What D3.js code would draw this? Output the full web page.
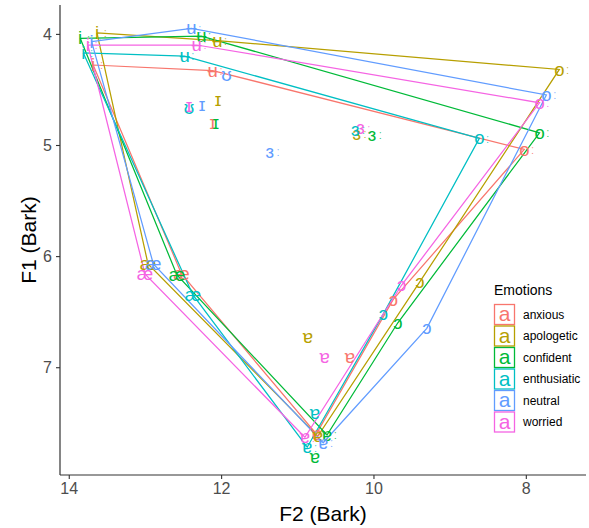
<!DOCTYPE html>
<html><head><meta charset="utf-8">
<script src="https://cdn.jsdelivr.net/npm/d3@7"></script>
<style>body{margin:0;background:#fff}svg{display:block}text{font-family:"Liberation Sans","DejaVu Sans",Arial,sans-serif}</style>
</head><body><svg id="c" width="589" height="528"></svg>
<script>
const emotions = ["anxious","apologetic","confident","enthusiatic","neutral","worried"];
const colors = ["#F8766D","#B79F00","#00BA38","#00BFC4","#619CFF","#F564E3"];
// polygon vowels in drawing order
const polyVowels = ["iː","æ","ɐː","ɔ","oː","ʉː"];
// F2 / F1 (Bark) per emotion, in polyVowels order
const f2_anxious     = [13.68,12.52,10.75,9.74,8.02,12.11];
const f1_anxious     = [4.28,6.16,7.60,6.39,5.04,4.33];
const f2_apologetic  = [13.63,12.96,10.73,9.39,7.56,12.05];
const f1_apologetic  = [3.99,6.07,7.62,6.23,4.32,4.06];
const f2_confident   = [13.85,12.58,10.61,9.68,7.82,12.26];
const f1_confident   = [4.04,6.17,7.61,6.60,4.89,4.02];
const f2_enthusiatic = [13.81,12.37,10.87,9.87,8.61,12.48];
const f1_enthusiatic = [4.17,6.35,7.72,6.52,4.94,4.20];
const f2_neutral     = [13.70,12.89,10.66,9.30,7.73,12.39];
const f1_neutral     = [4.07,6.07,7.68,6.65,4.55,3.95];
const f2_worried     = [13.75,13.00,10.90,9.63,7.82,12.32];
const f1_worried     = [4.10,6.16,7.63,6.26,4.62,4.10];
// other vowels (not in polygon)
const extraVowel   = ["ɪ","ɪ","ɪ","ɪ","ʊ","ɪ","ʊ","ɜː","ɜː","ɜː","ɜː","ɜː","ɐ","ɐ","ɐ","ɐ","ɐ"];
const extraEmotion = ["neutral","apologetic","anxious","confident","enthusiatic","worried","neutral","apologetic","worried","enthusiatic","confident","neutral","apologetic","worried","anxious","enthusiatic","confident"];
const extraF2      = [12.25,12.04,12.11,12.07,12.42,12.42,11.93,10.22,10.17,10.24,10.02,11.36,10.86,10.64,10.31,10.77,10.77];
const extraF1      = [4.64,4.59,4.80,4.80,4.67,4.65,4.37,4.90,4.85,4.86,4.91,5.06,6.73,6.91,6.91,7.41,7.81];
const xTicks = [14,12,10,8];
const yTicks = [4,5,6,7];

const f2 = {anxious:f2_anxious,apologetic:f2_apologetic,confident:f2_confident,enthusiatic:f2_enthusiatic,neutral:f2_neutral,worried:f2_worried};
const f1 = {anxious:f1_anxious,apologetic:f1_apologetic,confident:f1_confident,enthusiatic:f1_enthusiatic,neutral:f1_neutral,worried:f1_worried};
const col = d3.scaleOrdinal().domain(emotions).range(colors);

const svg = d3.select("#c");
const L=60,R=586,T=5,B=475;
const x = d3.scaleLinear().domain([14.115,7.21]).range([L,R]);
const y = d3.scaleLinear().domain([3.74,7.97]).range([T,B]);

// polygons
const line = d3.line().x(d=>x(d[0])).y(d=>y(d[1]));
emotions.forEach(e=>{
  const pts = polyVowels.map((v,i)=>[f2[e][i],f1[e][i]]);
  pts.push(pts[0]);
  svg.append("path").attr("d",line(pts)).attr("fill","none")
    .attr("stroke",col(e)).attr("stroke-width",1.25);
});

function label(g, v, px, py, c){
  const base = v.replace("ː","");
  g.append("text").attr("x",px).attr("y",py).attr("dy","0.33em")
    .attr("text-anchor","middle").attr("font-size",18.5).attr("fill",c).text(base);
  if (v.includes("ː")) {
    g.append("text").attr("x",px+6.5).attr("y",py).attr("dy","0.33em")
      .attr("text-anchor","start").attr("font-size",13).attr("fill",c).text("ː");
  }
}
const gl = svg.append("g");
extraVowel.forEach((v,i)=>label(gl,v,x(extraF2[i]),y(extraF1[i]),col(extraEmotion[i])));
emotions.forEach(e=>{
  polyVowels.forEach((v,i)=>label(gl,v,x(f2[e][i]),y(f1[e][i]),col(e)));
});

// axes
const ax = svg.append("g").attr("transform",`translate(0,${B})`)
  .call(d3.axisBottom(x).tickValues(xTicks).tickSize(4).tickPadding(4).tickFormat(d3.format("d")));
const ay = svg.append("g").attr("transform",`translate(${L},0)`)
  .call(d3.axisLeft(y).tickValues(yTicks).tickSize(4).tickPadding(4).tickFormat(d3.format("d")));
[ax,ay].forEach(a=>{
  a.select(".domain").remove();
  a.selectAll(".tick line").attr("stroke","#333").attr("stroke-width",1.1);
  a.selectAll(".tick text").attr("fill","#4D4D4D").attr("font-size",16)
   .attr("font-family","'Liberation Sans',Arial,sans-serif");
});
svg.append("line").attr("x1",L).attr("x2",R).attr("y1",B).attr("y2",B).attr("stroke","#333").attr("stroke-width",1.2);
svg.append("line").attr("x1",L).attr("x2",L).attr("y1",T).attr("y2",B).attr("stroke","#333").attr("stroke-width",1.2);

svg.append("text").attr("x",(L+R)/2).attr("y",521).attr("text-anchor","middle")
  .attr("font-size",21).attr("fill","#000").text("F2 (Bark)");
svg.append("text").attr("transform",`translate(36,${(T+B)/2}) rotate(-90)`).attr("text-anchor","middle")
  .attr("font-size",21).attr("fill","#000").text("F1 (Bark)");

// legend
const lg = svg.append("g");
lg.append("text").attr("x",494).attr("y",295).attr("font-size",14).attr("fill","#000").text("Emotions");
emotions.forEach((e,i)=>{
  const cy = 314.5 + i*21.5;
  lg.append("rect").attr("x",494.5).attr("y",cy-10).attr("width",20).attr("height",20)
    .attr("fill","#fff").attr("stroke",col(e)).attr("stroke-width",1.3);
  lg.append("text").attr("x",504.5).attr("y",cy).attr("dy","0.33em").attr("text-anchor","middle")
    .attr("font-size",21).attr("fill",col(e)).text("a");
  lg.append("text").attr("x",523).attr("y",cy).attr("dy","0.35em")
    .attr("font-size",12).attr("fill","#000").text(e);
});
</script></body></html>
